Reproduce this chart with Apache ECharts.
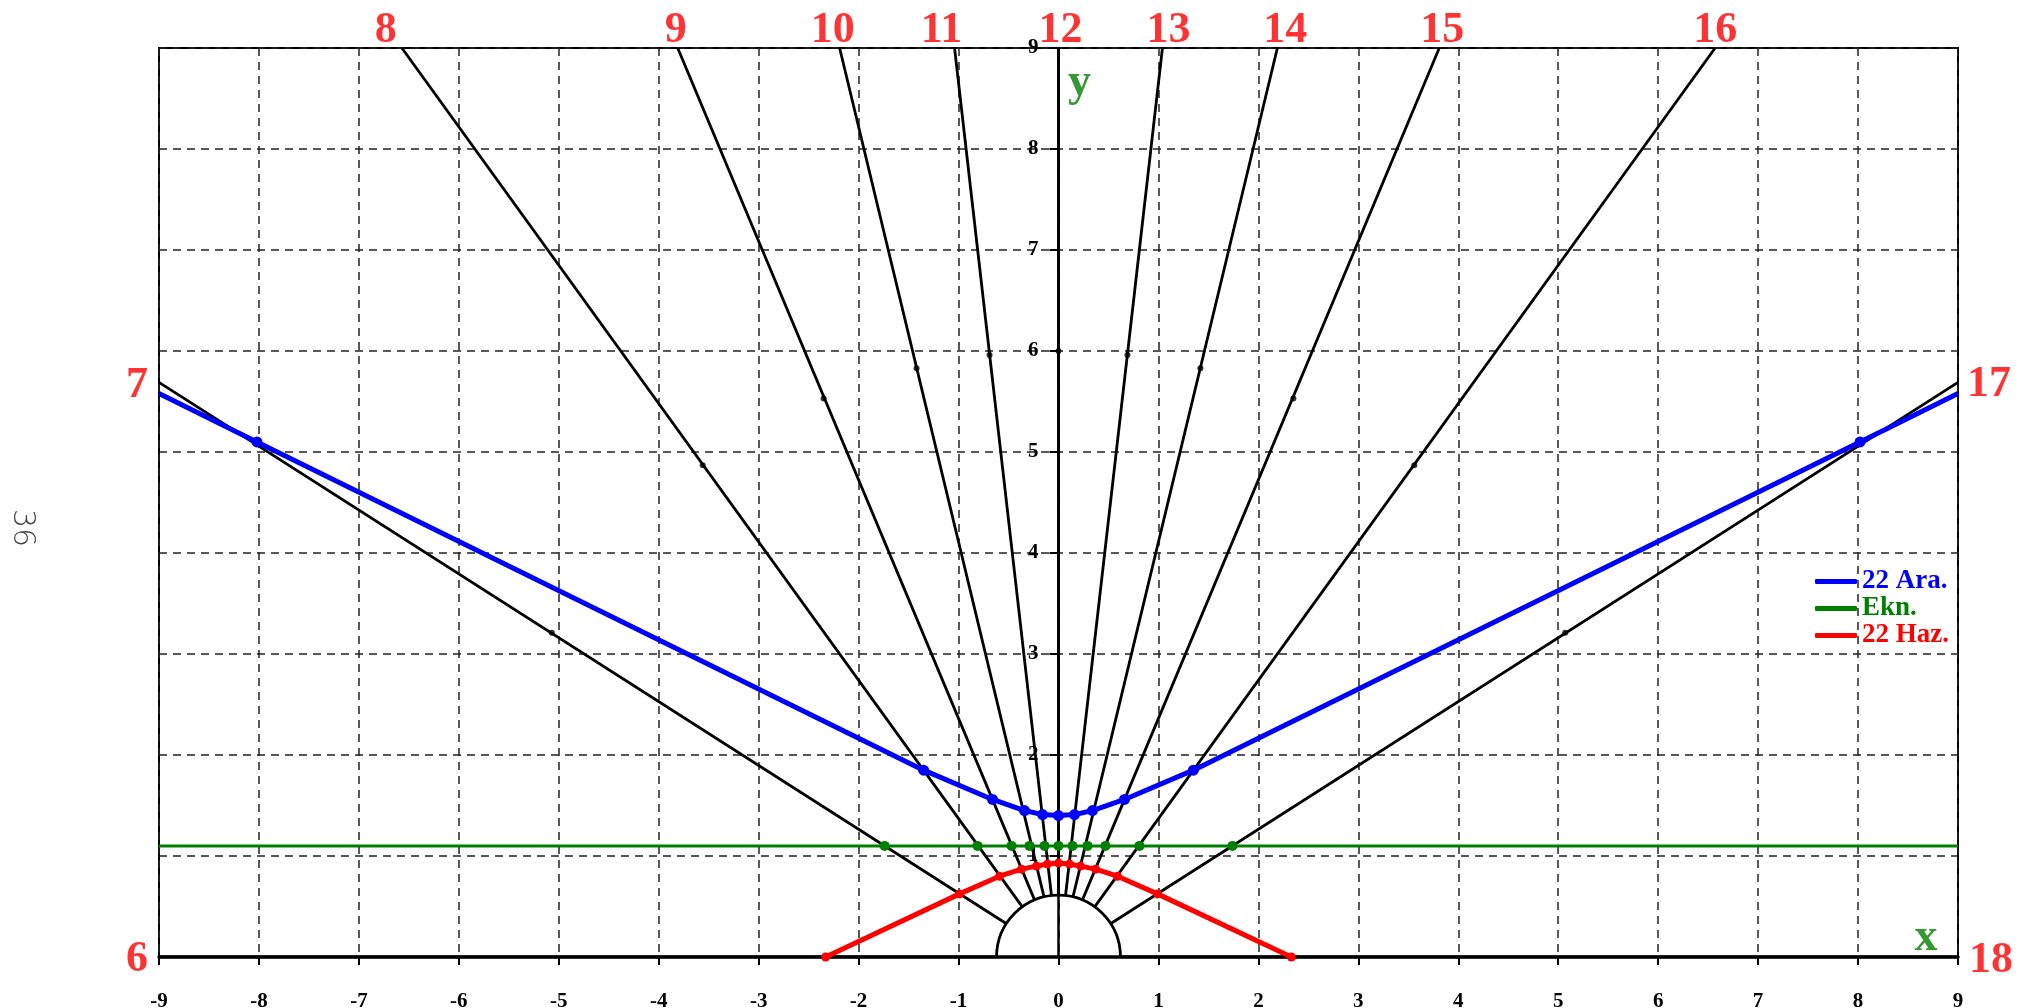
<!DOCTYPE html>
<html>
<head>
<meta charset="utf-8">
<title>Güneş saati</title>
<script src="https://cdn.jsdelivr.net/npm/echarts@6/dist/echarts.min.js"></script>
<style>
  html, body { margin: 0; padding: 0; background: #ffffff; }
  #chart { width: 2033px; height: 1008px; }
</style>
</head>
<body>
<div id="chart"></div>
<script>
// Hour lines of the dial: hour name and the point where each line leaves the frame
const hourNames = ['6', '7', '8', '9', '10', '11', '12', '13', '14', '15', '16', '17', '18'];
const hourEndX  = [-9, -9, -6.57, -3.81, -2.19, -1.04, 0, 1.04, 2.19, 3.81, 6.57, 9, 9];
const hourEndY  = [0, 5.69, 9, 9, 9, 9, 9, 9, 9, 9, 9, 5.69, 0];

// Gnomon foot: half circle around the origin
const gnomonRadius = 0.62;

// Small marks six units out along the hour lines (7 … 17)
const markX = [-5.07, -3.56, -2.35, -1.42, -0.69, 0, 0.69, 1.42, 2.35, 3.56, 5.07];
const markY = [3.21, 4.87, 5.53, 5.83, 5.96, 6, 5.96, 5.83, 5.53, 4.87, 3.21];

// Hour label anchors (data coordinates, outside the frame)
const hourLabelX = [-9.22, -9.22, -6.73, -3.83, -2.26, -1.17, 0.02, 1.10, 2.27, 3.84, 6.57, 9.31, 9.33];
const hourLabelY = [-0.03, 5.66, 9.17, 9.17, 9.17, 9.17, 9.17, 9.17, 9.17, 9.17, 9.17, 5.67, -0.04];

// Declination curves: shadow tip on each hour line
// 22 Aralık (winter solstice), frame edges first/last
const decDecX = [-9, -8.02, -1.35, -0.66, -0.34, -0.16, 0, 0.16, 0.34, 0.66, 1.35, 8.02, 9];
const decDecY = [5.58, 5.10, 1.85, 1.56, 1.45, 1.41, 1.40, 1.41, 1.45, 1.56, 1.85, 5.10, 5.58];
// Ekinoks (equinox line), frame edges first/last
const equX = [-9, -1.74, -0.81, -0.47, -0.29, -0.14, 0, 0.14, 0.29, 0.47, 0.81, 1.74, 9];
const equY = [1.10, 1.10, 1.10, 1.10, 1.10, 1.10, 1.10, 1.10, 1.10, 1.10, 1.10, 1.10, 1.10];
// 22 Haziran (summer solstice), hours 6 … 18
const decJunX = [-2.33, -0.99, -0.59, -0.37, -0.22, -0.11, 0, 0.11, 0.22, 0.37, 0.59, 0.99, 2.33];
const decJunY = [0, 0.625, 0.80, 0.87, 0.90, 0.92, 0.93, 0.92, 0.90, 0.87, 0.80, 0.625, 0];

// Axis ticks
const xTicks = [-9, -8, -7, -6, -5, -4, -3, -2, -1, 0, 1, 2, 3, 4, 5, 6, 7, 8, 9];
const yTicks = [0, 1, 2, 3, 4, 5, 6, 7, 8, 9];

const SERIF = '"Liberation Serif", "DejaVu Serif", serif';
const GRID_LEFT = 159;

function curveData(xs, ys, hideEnds) {
  return xs.map((x, i) => {
    const item = { value: [x, ys[i]] };
    if (hideEnds && (i === 0 || i === xs.length - 1)) item.symbolSize = 0;
    return item;
  });
}

// hour lines run from the gnomon circle out to the frame
const hourLineSeries = hourNames.map((h, i) => {
  const ex = hourEndX[i], ey = hourEndY[i];
  const len = Math.hypot(ex, ey);
  return {
    type: 'line',
    name: 'saat ' + h,
    data: [[ex * gnomonRadius / len, ey * gnomonRadius / len], [ex, ey]],
    showSymbol: false,
    silent: true,
    lineStyle: { color: '#000', width: 2.8 },
    z: 3
  };
});

const chart = echarts.init(document.getElementById('chart'), null, { renderer: 'canvas' });

chart.setOption({
  animation: false,
  backgroundColor: '#ffffff',
  grid: {
    left: GRID_LEFT, right: 75, top: 48, bottom: 51,
    show: true, borderColor: '#000', borderWidth: 2,
    outerBoundsMode: 'none'
  },
  xAxis: {
    type: 'value', min: xTicks[0], max: xTicks[xTicks.length - 1], interval: 1,
    axisLine: { onZero: false, lineStyle: { color: '#000', width: 3.5 } },
    axisTick: { length: 8, lineStyle: { color: '#000', width: 2 } },
    axisLabel: { margin: 34, fontFamily: SERIF, fontWeight: 'bold', fontSize: 21, color: '#000' },
    splitLine: { show: true, lineStyle: { type: [8, 6], color: '#222', width: 1.5 } }
  },
  yAxis: {
    type: 'value', min: yTicks[0], max: yTicks[yTicks.length - 1], interval: 1,
    axisLine: { onZero: false, lineStyle: { color: '#000', width: 2.5 } },
    axisTick: { show: true, length: 9, lineStyle: { color: '#000', width: 2 } },
    axisLabel: {
      margin: 20, fontFamily: SERIF, fontWeight: 'bold', fontSize: 21, color: '#000',
      formatter: v => (v === 0 ? '' : String(v))
    },
    splitLine: { show: true, lineStyle: { type: [8, 6], color: '#222', width: 1.5 } }
  },
  legend: {
    orient: 'vertical', left: 1815, top: 568, itemGap: 0, padding: 0,
    itemWidth: 42, itemHeight: 5, icon: 'roundRect',
    textStyle: { fontFamily: SERIF, fontWeight: 'bold', fontSize: 27, lineHeight: 24 },
    data: [
      { name: '22 Ara.', textStyle: { color: '#0000ff' } },
      { name: 'Ekn.', textStyle: { color: '#008000' } },
      { name: '22 Haz.', textStyle: { color: '#ff0000' } }
    ]
  },
  graphic: [{
    type: 'text', x: 22, y: 528, rotation: -Math.PI / 2,
    style: {
      text: '36', fontFamily: '"DejaVu Sans", sans-serif', fontWeight: 200, fontSize: 30,
      fill: '#444', align: 'center', verticalAlign: 'middle'
    }
  }],
  series: [
    ...hourLineSeries,
    {
      // gnomon foot circle
      type: 'custom', name: 'gnomon', silent: true, z: 3,
      data: [[0, 0, gnomonRadius]],
      renderItem: (params, api) => {
        const c = api.coord([api.value(0), api.value(1)]);
        const r = api.size([api.value(2), 0])[0];
        return {
          type: 'arc',
          shape: { cx: c[0], cy: c[1], r: r, startAngle: Math.PI, endAngle: 2 * Math.PI },
          style: { stroke: '#000', lineWidth: 2.8, fill: null }
        };
      }
    },
    {
      type: 'scatter', name: 'marks', silent: true, z: 4,
      data: markX.map((x, i) => [x, markY[i]]),
      symbol: 'circle', symbolSize: 6, itemStyle: { color: '#000' }
    },
    {
      type: 'line', name: '22 Ara.', z: 5,
      data: curveData(decDecX, decDecY, true),
      symbol: 'circle', symbolSize: 11, showAllSymbol: true,
      lineStyle: { color: '#0000ff', width: 5 }, itemStyle: { color: '#0000ff' }
    },
    {
      type: 'line', name: 'Ekn.', z: 5,
      data: curveData(equX, equY, true),
      symbol: 'circle', symbolSize: 10, showAllSymbol: true,
      lineStyle: { color: '#008000', width: 3 }, itemStyle: { color: '#008000' }
    },
    {
      type: 'line', name: '22 Haz.', z: 5,
      data: curveData(decJunX, decJunY, false),
      symbol: 'circle', symbolSize: 9, showAllSymbol: true, clip: false,
      lineStyle: { color: '#ff0000', width: 5 }, itemStyle: { color: '#ff0000' }
    },
    {
      // hour numbers around the frame
      type: 'scatter', name: 'hour labels', silent: true, clip: false, z: 6,
      symbolSize: 0,
      data: hourNames.map((h, i) => ({ name: h, value: [hourLabelX[i], hourLabelY[i]] })),
      label: {
        show: true, position: 'inside', formatter: p => p.name,
        fontFamily: SERIF, fontWeight: 'bold', fontSize: 44, color: '#ff0000'
      }
    },
    {
      // axis names
      type: 'scatter', name: 'axis names', silent: true, clip: false, z: 6,
      symbolSize: 0,
      data: [{ name: 'x', value: [8.68, 0.19] }, { name: 'y', value: [0.21, 8.65] }],
      label: {
        show: true, position: 'inside', formatter: p => p.name,
        fontFamily: SERIF, fontWeight: 'bold', fontSize: 46, color: '#008000'
      }
    }
  ]
});

// put the y axis (line, ticks and labels) on x = 0
const zeroPx = chart.convertToPixel({ xAxisIndex: 0 }, 0);
chart.setOption({ yAxis: { offset: -(zeroPx - GRID_LEFT) } });
</script>
</body>
</html>
